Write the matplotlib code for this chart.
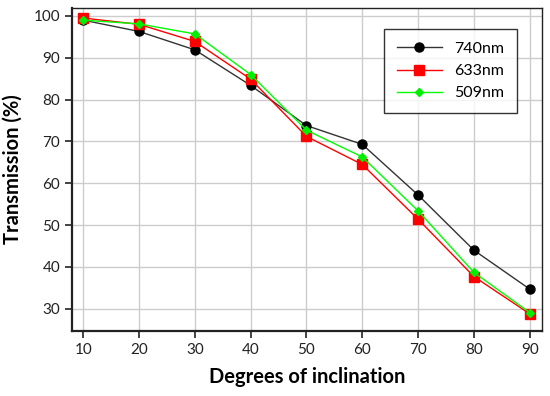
import matplotlib
matplotlib.use("Agg")
import matplotlib.pyplot as plt

plt.rcParams['font.family'] = ['Lato', 'DejaVu Sans']

# data
angles = [10, 20, 30, 40, 50, 60, 70, 80, 90]
t_740 = [99.0, 96.3, 91.9, 83.4, 73.8, 69.3, 57.2, 44.0, 34.7]
t_633 = [99.5, 98.0, 93.9, 84.9, 71.2, 64.5, 51.4, 37.7, 28.8]
t_509 = [99.0, 98.1, 95.7, 86.0, 72.7, 66.3, 53.4, 38.7, 29.1]

fig = plt.figure(figsize=(5.5, 3.96), dpi=100)
ax = fig.add_axes([72/550, 1-331/396, (541.5-72)/550, (331-8)/396])

ax.plot(angles, t_740, color='#333333', lw=1, marker='o', ms=6.5,
        mfc='black', mec='black', label='740nm')
ax.plot(angles, t_633, color='#ff0000', lw=1, marker='s', ms=6.5,
        mfc='#ff0000', mec='#ff0000', label='633nm')
ax.plot(angles, t_509, color='#00ff00', lw=1, marker='D', ms=4.5,
        mfc='#00ee00', mec='#00ee00', label='509nm')

ax.set_xlim(8, 92.1)
ax.set_ylim(24.7, 101.9)
ax.set_xticks(angles)
ax.set_yticks([30, 40, 50, 60, 70, 80, 90, 100])
ax.grid(True, color='#cccccc', lw=1)
ax.set_axisbelow(True)

for s in ['left', 'bottom']:
    ax.spines[s].set_linewidth(1.6)
    ax.spines[s].set_color('#222222')
for s in ['top', 'right']:
    ax.spines[s].set_linewidth(1.0)
    ax.spines[s].set_color('#222222')

ax.tick_params(axis='both', direction='out', length=5, width=1.2,
               labelsize=11, colors='#222222', top=False, right=False)
ax.set_xlabel('Degrees of inclination', fontsize=14.5, fontweight='bold', labelpad=7)
ax.set_ylabel('Transmission (%)', fontsize=14.5, fontweight='bold', labelpad=8)

leg = ax.legend(loc='upper right', bbox_to_anchor=(0.948, 0.935), borderaxespad=0,
                fontsize=11.5, frameon=True, fancybox=False, edgecolor='black',
                handlelength=2.8, borderpad=0.8, labelspacing=0.5)
leg.get_frame().set_linewidth(1.0)

fig.savefig('out.png', dpi=100)
